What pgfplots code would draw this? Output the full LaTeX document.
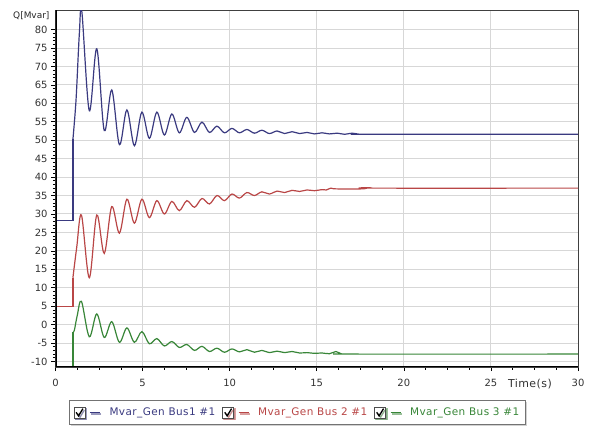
\documentclass[border=0pt]{standalone}
\usepackage{fontspec}
\setmainfont{DejaVu Sans}
\newfontfamily\spacedfont[LetterSpace=4]{DejaVu Sans}
\usepackage{pgfplots}
\pgfplotsset{compat=1.18}
\usetikzlibrary{shadows}
\definecolor{cblue}{RGB}{58,58,128}
\definecolor{cred}{RGB}{185,70,70}
\definecolor{cgreen}{RGB}{56,134,56}
\definecolor{cgrid}{RGB}{215,215,215}
\begin{document}
\begin{tikzpicture}
\useasboundingbox (0,0) rectangle (589bp,434bp);
\begin{axis}[
  at={(55.5bp,67bp)}, anchor=south west,
  scale only axis, width=522.5bp, height=357bp,
  xmin=0, xmax=30, ymin=-11.5, ymax=85.3,
  xtick={0,5,10,15,20,25,30},
  ytick={-10,-5,0,5,10,15,20,25,30,35,40,45,50,55,60,65,70,75,80},
  minor x tick num=3, minor y tick num=4,
  tick pos=left, tick align=outside,
  major tick length=4bp, minor tick length=2.5bp,
  every tick/.style={black, line width=0.6bp},
  grid=major, major grid style={cgrid, line width=0.9bp},
  axis line style={draw=black!75, line width=0.9bp},
  /pgf/number format/assume math mode=true,
  tick label style={font=\fontsize{10}{12}\selectfont, text=black!80},
  yticklabel style={xshift=-0.5bp},
  xticklabel style={yshift=-5bp},
  xlabel={Time(s)},
  every axis x label/.style={at={(rel axis cs:0.908,0)}, anchor=center, yshift=-17.5bp, font=\spacedfont\fontsize{11}{13}\selectfont, text=black!80},
  ylabel={Q[Mvar]},
  every axis y label/.style={at={(rel axis cs:0,1)}, anchor=east, xshift=-2.5bp, yshift=-6bp, font=\fontsize{9}{10}\selectfont, text=black!85},
  legend columns=3,
  legend style={at={(0.463,-0.0924)}, anchor=north, draw=black!55, fill=white, line width=0.8bp,
    font=\spacedfont\fontsize{10.5}{12}\selectfont, inner xsep=4bp, inner ysep=5.5bp,
    drop shadow={shadow xshift=1.5bp, shadow yshift=-1.5bp, fill=black!35},
    /tikz/every even column/.append style={column sep=5bp}},
  legend image code/.code={%
    \draw[draw=black!70, fill=white, line width=0.6bp, solid] (0bp,-5.5bp) rectangle (11bp,5.5bp);
    \draw[draw=black, line width=1.3bp, solid] (2.2bp,0.2bp) -- (4.6bp,-3.4bp) -- (9bp,3.9bp);
    \draw[#1, solid, line width=1bp] (16bp,0bp) -- (26bp,0bp);
    \path (33bp,0bp);
  },
]
% ---------- Bus 1 ----------
\addplot[cblue, line width=1.2bp, forget plot] coordinates {(0,28.2) (1.0,28.2) (1.0,50.2)};
\addplot[cblue, line width=1.2bp, smooth, tension=0.55] coordinates {
(1.00,50.2) (1.18,61) (1.37,79) (1.51,85.0)
(1.94,58.0) (2.37,74.8) (2.80,52.6) (3.23,63.6) (3.67,48.8) (4.10,58.2)
(4.53,48.5) (4.96,57.6) (5.39,50.5) (5.82,57.6) (6.25,51.4) (6.68,57.1)
(7.11,52.0) (7.54,56.2) (7.98,52.1) (8.41,54.9) (8.84,52.1) (9.27,53.8)
(9.70,52.0) (10.13,53.2) (10.56,52.0) (10.99,52.9) (11.42,51.9) (11.85,52.7)
(12.28,51.8) (12.72,52.5) (13.15,51.8) (13.58,52.3) (14.01,51.8) (14.44,52.1)
(14.87,51.7) (15.30,52.0) (15.73,51.7) (16.17,51.9) (16.60,51.6) (17.03,51.9)
(17.46,51.6) (17.9,51.6) (30,51.6)};
\addlegendentry{\textcolor{cblue}{Mvar\_Gen Bus1 \#1}}
% ---------- Bus 2 ----------
\addplot[cred, line width=1.2bp, forget plot] coordinates {(0,5.0) (1.0,5.0) (1.0,12.7)};
\addplot[cred, line width=1.2bp, smooth, tension=0.55] coordinates {
(1.00,12.7) (1.22,21) (1.49,29.7)
(1.94,12.7) (2.37,29.7) (2.80,19.3) (3.23,32.0) (3.67,24.8) (4.10,34.0)
(4.53,27.5) (4.96,34.0) (5.39,29.0) (5.82,33.6) (6.25,30.0) (6.68,33.4)
(7.11,30.9) (7.54,33.6) (7.98,31.8) (8.41,34.2) (8.84,32.7) (9.27,35.0)
(9.70,33.6) (10.13,35.4) (10.56,34.3) (10.99,35.8) (11.42,35.0) (11.85,36.0)
(12.28,35.4) (12.72,36.2) (13.15,35.8) (13.58,36.4) (14.01,36.1) (14.44,36.5)
(14.87,36.3) (15.30,36.6) (15.55,36.5) (15.80,37.0) (16.10,36.8) (17.6,36.8)
(17.95,37.1) (18.3,37.0) (30,37.0)};
\addlegendentry{\textcolor{cred}{Mvar\_Gen Bus 2 \#1}}
% ---------- Bus 3 ----------
\addplot[cgreen, line width=1.2bp, forget plot] coordinates {(0,-11.4) (1.0,-11.4) (1.0,-2.1)};
\addplot[cgreen, line width=1.2bp, smooth, tension=0.55] coordinates {
(1.00,-2.1) (1.08,-1.6) (1.25,2.5) (1.49,6.3)
(1.94,-3.3) (2.37,2.9) (2.80,-3.5) (3.23,0.8) (3.67,-4.8) (4.10,-0.9)
(4.53,-4.8) (4.96,-1.9) (5.39,-5.2) (5.82,-3.8) (6.25,-5.8) (6.68,-4.6)
(7.11,-6.2) (7.54,-5.4) (7.98,-7.0) (8.41,-5.9) (8.84,-7.3) (9.27,-6.4)
(9.70,-7.5) (10.13,-6.6) (10.56,-7.4) (10.99,-6.8) (11.42,-7.5) (11.85,-7.0)
(12.28,-7.6) (12.72,-7.2) (13.15,-7.6) (13.58,-7.3) (14.01,-7.7) (14.44,-7.6)
(14.87,-7.8) (15.30,-7.7) (15.73,-7.9) (16.10,-7.3) (16.40,-7.9) (17.0,-8.0)
(30,-8.0)};
\addlegendentry{\textcolor{cgreen}{Mvar\_Gen Bus 3 \#1}}
% thick left and bottom axis lines
\draw[black, line width=2.4bp] (rel axis cs:0,1) -- (rel axis cs:0,0) -- (rel axis cs:1,0);
\end{axis}
\end{tikzpicture}
\end{document}
